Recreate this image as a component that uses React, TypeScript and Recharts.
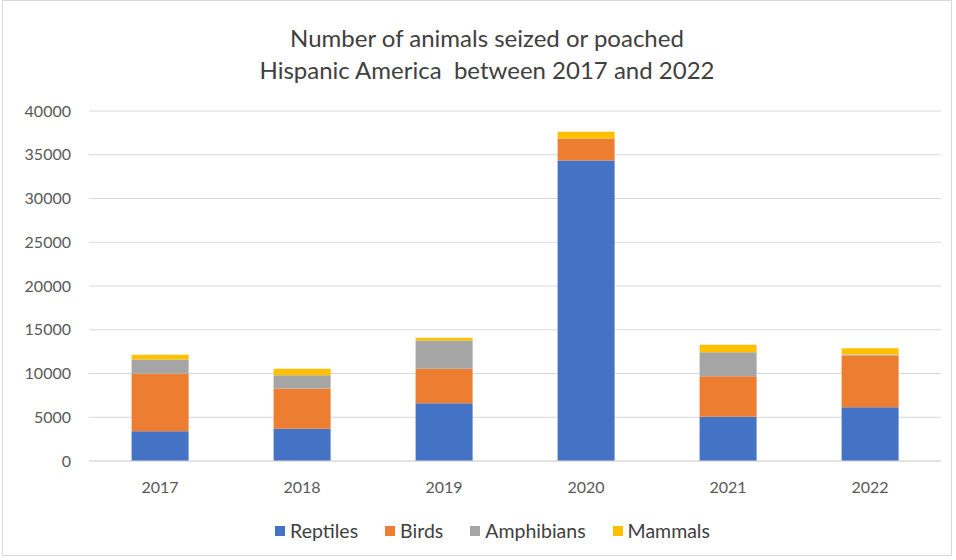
import React from 'react';
import { BarChart, Bar, XAxis, YAxis, CartesianGrid, Legend } from 'recharts';

const years = ['2017', '2018', '2019', '2020', '2021', '2022'];
const reptiles = [3400, 3700, 6600, 34350, 5050, 6150];
const birds = [6570, 4600, 3950, 2520, 4640, 5900];
const amphibians = [1630, 1500, 3230, 0, 2740, 120];
const mammals = [540, 730, 310, 760, 850, 720];
const yTicks = [0, 5000, 10000, 15000, 20000, 25000, 30000, 35000, 40000];

const series = [
  { key: 'Reptiles', color: '#4472c4' },
  { key: 'Birds', color: '#ed7d31' },
  { key: 'Amphibians', color: '#a5a5a5' },
  { key: 'Mammals', color: '#ffc000' },
];

const data = years.map((year, i) => ({
  year,
  Reptiles: reptiles[i],
  Birds: birds[i],
  Amphibians: amphibians[i],
  Mammals: mammals[i],
}));

const font = 'Lato, "Open Sans", sans-serif';

// legend kept in series order (recharts sorts by name otherwise)
const renderLegend = () => (
  <div style={{ display: 'flex', justifyContent: 'center', gap: 27, fontSize: 19.5, color: '#404040' }}>
    {series.map((s) => (
      <span key={s.key} style={{ display: 'flex', alignItems: 'center' }}>
        <span style={{ width: 10, height: 10, background: s.color, marginRight: 5, display: 'inline-block' }} />
        {s.key}
      </span>
    ))}
  </div>
);

export default function App() {
  return (
    <div
      style={{
        position: 'absolute',
        left: 0,
        top: 0,
        width: 956,
        height: 560,
        background: '#fff',
        fontFamily: font,
      }}
    >
      <div
        style={{
          position: 'absolute',
          left: 2,
          top: 0,
          width: 950,
          height: 556,
          border: '1px solid #d9d9d9',
          boxSizing: 'border-box',
        }}
      />
      <div
        style={{
          position: 'absolute',
          top: 22,
          left: 0,
          width: 974,
          textAlign: 'center',
          fontSize: 24,
          lineHeight: '32px',
          color: '#404040',
          whiteSpace: 'pre',
        }}
      >
        {'Number of animals seized or poached\nHispanic America  between 2017 and 2022'}
      </div>
      <BarChart
        width={956}
        height={560}
        data={data}
        barCategoryGap="30%"
        margin={{ top: 111, right: 15, bottom: 46, left: 0 }}
        style={{ position: 'absolute', left: 0, top: 0 }}
      >
        <CartesianGrid vertical={false} stroke="#d9d9d9" />
        <XAxis
          dataKey="year"
          axisLine={{ stroke: '#d9d9d9' }}
          tickLine={false}
          tickMargin={15}
          tick={{ fill: '#595959', fontSize: 16, fontFamily: font }}
        />
        <YAxis
          width={89}
          domain={[0, 40000]}
          ticks={yTicks}
          axisLine={false}
          tickLine={false}
          tickMargin={12}
          tick={{ fill: '#595959', fontSize: 16, fontFamily: font }}
        />
        <Legend
          verticalAlign="bottom"
          content={renderLegend}
          wrapperStyle={{ bottom: 18, left: 22, fontFamily: font }}
        />
        {series.map((s) => (
          <Bar key={s.key} dataKey={s.key} stackId="a" fill={s.color} isAnimationActive={false} />
        ))}
      </BarChart>
    </div>
  );
}
